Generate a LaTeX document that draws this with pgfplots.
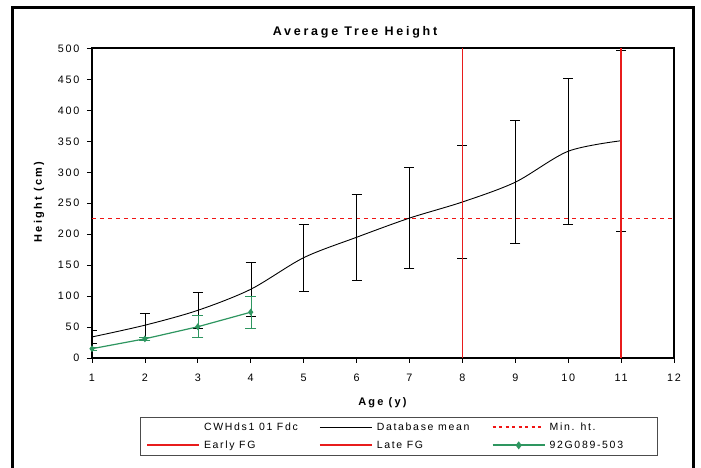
\documentclass[border=0pt]{standalone}
\usepackage{fontspec}
\setmainfont{Liberation Sans}[LetterSpace=16]
\usepackage{pgfplots}
\pgfplotsset{compat=1.18}
\definecolor{fgred}{RGB}{232,28,28}
\definecolor{mht}{RGB}{240,20,20}
\definecolor{grn}{RGB}{46,150,96}
\begin{document}
\begin{tikzpicture}
\useasboundingbox (0,0) rectangle (701pt,468pt);
\fill[white] (0,0) rectangle (701pt,468pt);
\draw[line width=3pt] (12.5pt,-10pt) -- (12.5pt,460.8pt) -- (693.3pt,460.8pt) -- (693.3pt,-10pt);
\begin{axis}[
  at={(92pt,110pt)}, anchor=south west,
  scale only axis, width=582pt, height=309.5pt,
  xmin=1, xmax=12, ymin=0, ymax=500,
  xtick={1,...,12}, ytick={0,50,...,500},
  tick pos=left, tick align=outside, major tick length=5pt,
  tick style={black, line width=0.8pt},
  axis line style={line width=2pt},
  /pgf/number format/assume math mode=true,
  ticklabel style={font=\fontsize{10.8pt}{12pt}\selectfont},
  xticklabel style={yshift=-7.5pt},
  yticklabel style={xshift=-4pt},
  title={Average Tree Height},
  title style={at={(0.452,1.034)}, anchor=center, yshift=0pt, font=\fontsize{12.5pt}{15pt}\selectfont\bfseries\addfontfeatures{LetterSpace=22}},
  xlabel={Age (y)},
  xlabel style={at={(0.499,-0.145)}, anchor=center, font=\fontsize{11pt}{13pt}\selectfont\bfseries\addfontfeatures{LetterSpace=20}},
  ylabel={Height (cm)},
  ylabel style={at={(-0.091,0.504)}, anchor=center, font=\fontsize{11pt}{13pt}\selectfont\bfseries\addfontfeatures{LetterSpace=20}},
  legend columns=3,
  legend style={name=leg, at={(0.0825,-0.1906)}, anchor=north west, draw=none,
    font=\fontsize{10.5pt}{12pt}\selectfont, inner xsep=6pt, inner ysep=4.5pt, row sep=7pt,
    column sep=0pt, nodes={inner xsep=4pt, inner ysep=1pt}},
  legend cell align=left,
]
\addlegendimage{empty legend}
\addlegendentry{\makebox[111pt][l]{CWHds1 01 Fdc}}
\addlegendimage{legend image code/.code={\draw[draw=black, line width=1pt] (0pt,0pt) -- (52pt,0pt);}}
\addlegendentry{\makebox[111pt][l]{Database mean}}
\addlegendimage{legend image code/.code={\draw[draw=mht, line width=1.8pt, dash pattern=on 3pt off 3.5pt] (0pt,0pt) -- (52pt,0pt);}}
\addlegendentry{\makebox[97pt][l]{Min. ht.}}
\addlegendimage{legend image code/.code={\draw[draw=fgred, line width=1.8pt] (0pt,0pt) -- (52pt,0pt);}}
\addlegendentry{\makebox[111pt][l]{Early FG}}
\addlegendimage{legend image code/.code={\draw[draw=fgred, line width=1.8pt] (0pt,0pt) -- (52pt,0pt);}}
\addlegendentry{\makebox[111pt][l]{Late FG}}
\addlegendimage{legend image code/.code={\draw[draw=grn, line width=1.8pt, mark=diamond*, mark size=2.6pt, mark options={solid, draw=grn, fill=grn}, mark repeat=2, mark phase=2] plot coordinates {(0pt,0pt) (26pt,0pt) (52pt,0pt)};}}
\addlegendentry{\makebox[97pt][l]{92G089-503}}

\addplot[mht, line width=0.9pt, dash pattern=on 4pt off 4pt, forget plot] coordinates {(1,225) (12,225)};

\addplot[black, line width=0.9pt, smooth, forget plot,
  error bars/.cd, y dir=both, y explicit,
  error mark options={rotate=90, black, mark size=5pt, line width=0.9pt}]
coordinates {
(1,34) +- (0,11)
(2,53) +- (0,19.5)
(3,77) +- (0,28.5)
(4,111) +- (0,43.5)
(5,162) +- (0,54.5)
(6,195) +- (0,70)
(7,226) +- (0,81.5)
(8,252) +- (0,91)
(9,284) +- (0,99.5)
(10,334) +- (0,117.5)
(11,351) +- (0,146)
};

\addplot[grn, line width=1.2pt, mark=diamond*, mark size=2.5pt, mark options={fill=grn}, forget plot,
  error bars/.cd, y dir=both, y explicit,
  error mark options={rotate=90, grn, mark size=5.5pt, line width=0.9pt}]
coordinates {
(1,15) +- (0,2)
(2,31) +- (0,2.5)
(3,50.5) +- (0,17.5)
(4,74) +- (0,26)
};

\addplot[fgred, line width=1.3pt, forget plot] coordinates {(8,0) (8,500)};
\addplot[fgred, line width=1.3pt, forget plot] coordinates {(11,0) (11,500)};
\end{axis}
\draw[black!70, line width=0.6pt] (leg.north west) rectangle (leg.south east);
\end{tikzpicture}
\end{document}
